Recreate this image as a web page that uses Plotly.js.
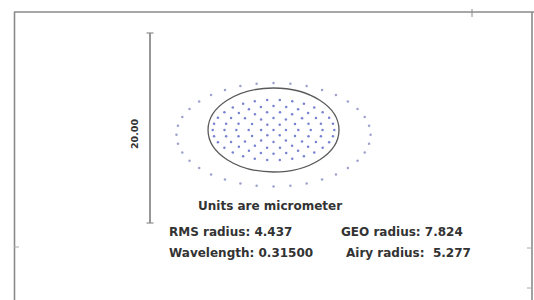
<!DOCTYPE html>
<html>
<head>
<meta charset="utf-8">
<script src="https://cdn.plot.ly/plotly-3.0.1.min.js"></script>
<style>html,body{margin:0;padding:0;background:#fff;}#chart{width:534px;height:300px;}</style>
</head>
<body>
<div id="chart"></div>
<script>
// ---- Data (micrometers) ----
var centerX = [0];
var centerY = [0];
var ring1X = [1.0, 0.5, -0.5, -1.0, -0.5, 0.5];
var ring1Y = [0, 0.67, 0.67, 0, -0.67, -0.67];
var ring2X = [2.0, 1.73, 1.0, 0, -1.0, -1.73, -2.0, -1.73, -1.0, 0, 1.0, 1.73];
var ring2Y = [0, 0.76, 1.32, 1.52, 1.32, 0.76, 0, -0.76, -1.32, -1.52, -1.32, -0.76];
var ring3X = [3.0, 2.82, 2.30, 1.5, 0.52, -0.52, -1.5, -2.30, -2.82, -3.0, -2.82, -2.30, -1.5, -0.52, 0.52, 1.5, 2.30, 2.82];
var ring3Y = [0, 0.78, 1.46, 1.97, 2.24, 2.24, 1.97, 1.46, 0.78, 0, -0.78, -1.46, -1.97, -2.24, -2.24, -1.97, -1.46, -0.78];
var ring4X = [3.95, 3.82, 3.42, 2.79, 1.98, 1.02, 0, -1.02, -1.98, -2.79, -3.42, -3.82, -3.95, -3.82, -3.42, -2.79, -1.98, -1.02, 0, 1.02, 1.98, 2.79, 3.42, 3.82];
var ring4Y = [0, 0.78, 1.5, 2.12, 2.6, 2.9, 3.0, 2.9, 2.6, 2.12, 1.5, 0.78, 0, -0.78, -1.5, -2.12, -2.6, -2.9, -3.0, -2.9, -2.6, -2.12, -1.5, -0.78];
var ring5X = [4.9, 4.79, 4.48, 3.96, 3.28, 2.45, 1.51, 0.51, -0.51, -1.51, -2.45, -3.28, -3.96, -4.48, -4.79, -4.9, -4.79, -4.48, -3.96, -3.28, -2.45, -1.51, -0.51, 0.51, 1.51, 2.45, 3.28, 3.96, 4.48, 4.79];
var ring5Y = [0, 0.79, 1.55, 2.23, 2.82, 3.29, 3.61, 3.78, 3.78, 3.61, 3.29, 2.82, 2.23, 1.55, 0.79, 0, -0.79, -1.55, -2.23, -2.82, -3.29, -3.61, -3.78, -3.78, -3.61, -3.29, -2.82, -2.23, -1.55, -0.79];
var outerX = [7.82, 7.70, 7.35, 6.77, 5.99, 5.03, 3.91, 2.67, 1.36, 0, -1.36, -2.67, -3.91, -5.03, -5.99, -6.77, -7.35, -7.70, -7.82, -7.70, -7.35, -6.77, -5.99, -5.03, -3.91, -2.67, -1.36, 0, 1.36, 2.67, 3.91, 5.03, 5.99, 6.77, 7.35, 7.70];
var outerY = [-0.6, 0.53, 1.62, 2.65, 3.58, 4.38, 5.03, 5.51, 5.80, 5.9, 5.80, 5.51, 5.03, 4.38, 3.58, 2.65, 1.62, 0.53, -0.6, -1.73, -2.82, -3.85, -4.78, -5.58, -6.23, -6.71, -7.0, -7.1, -7.0, -6.71, -6.23, -5.58, -4.78, -3.85, -2.82, -1.73];

var airyRadius = 5.277;
var scaleBarLabel = "20.00";
var unitsLabel = "Units are micrometer";
var statLabels = ["RMS radius: 4.437", "GEO radius: 7.824", "Wavelength: 0.31500", "Airy radius:  5.277"];

// ---- Build ----
var innerX = centerX.concat(ring1X, ring2X, ring3X, ring4X, ring5X);
var innerY = centerY.concat(ring1Y, ring2Y, ring3Y, ring4Y, ring5Y);

var W = 534, H = 300;
function px(x){ return x / W; }
function py(y){ return 1 - y / H; }

var traces = [
  {x: innerX, y: innerY, type: 'scatter', mode: 'markers', hoverinfo: 'skip',
   marker: {size: 2.5, color: 'rgba(65,82,190,0.72)'}},
  {x: outerX, y: outerY, type: 'scatter', mode: 'markers', hoverinfo: 'skip',
   marker: {size: 2.5, color: 'rgba(95,105,175,0.62)'}}
];

var lineCol = '#8a8a8a';
var shapes = [
  {type:'line', xref:'paper', yref:'paper', x0:px(14.5), x1:px(14.5), y0:py(12), y1:py(300), line:{color:lineCol, width:1.6}},
  {type:'line', xref:'paper', yref:'paper', x0:px(14), x1:px(534), y0:py(12), y1:py(12), line:{color:lineCol, width:1.6}},
  {type:'line', xref:'paper', yref:'paper', x0:px(532), x1:px(532), y0:py(12), y1:py(300), line:{color:lineCol, width:1.6}},
  {type:'line', xref:'paper', yref:'paper', x0:px(472), x1:px(472), y0:py(9), y1:py(17), line:{color:lineCol, width:1}},
  {type:'line', xref:'paper', yref:'paper', x0:px(14), x1:px(19), y0:py(247), y1:py(247), line:{color:'#aaa', width:1}},
  {type:'line', xref:'paper', yref:'paper', x0:px(527), x1:px(532), y0:py(248), y1:py(248), line:{color:'#aaa', width:1}},
  {type:'line', xref:'paper', yref:'paper', x0:px(527), x1:px(532), y0:py(288), y1:py(288), line:{color:'#aaa', width:1}},
  // scale bar
  {type:'line', xref:'paper', yref:'paper', x0:px(150), x1:px(150), y0:py(33), y1:py(223), line:{color:'#8c8c8c', width:1.8}},
  {type:'line', xref:'paper', yref:'paper', x0:px(146.5), x1:px(153.5), y0:py(33), y1:py(33), line:{color:'#8c8c8c', width:1.2}},
  {type:'line', xref:'paper', yref:'paper', x0:px(146.5), x1:px(153.5), y0:py(223), y1:py(223), line:{color:'#8c8c8c', width:1.2}},
  // Airy circle
  {type:'circle', xref:'x', yref:'y', x0:-airyRadius, x1:airyRadius, y0:-airyRadius, y1:airyRadius,
   line:{color:'#5a5a5a', width:1.3}, fillcolor:'rgba(0,0,0,0)'}
];

var tf = {family:'"DejaVu Sans", sans-serif', size:12, color:'#333'};
var annotations = [
  {xref:'paper', yref:'paper', x:px(134), y:py(134), text:'<b>'+scaleBarLabel+'</b>', textangle:-90, showarrow:false,
   xanchor:'center', yanchor:'middle', font:{family:'"DejaVu Sans", sans-serif', size:9.5, color:'#333'}},
  {xref:'paper', yref:'paper', x:px(270), y:py(206), text:'<b>'+unitsLabel+'</b>', showarrow:false, xanchor:'center', yanchor:'middle', font:tf},
  {xref:'paper', yref:'paper', x:px(167), y:py(232), text:'<b>'+statLabels[0]+'</b>', showarrow:false, xanchor:'left', yanchor:'middle', font:tf},
  {xref:'paper', yref:'paper', x:px(339), y:py(232), text:'<b>'+statLabels[1]+'</b>', showarrow:false, xanchor:'left', yanchor:'middle', font:tf},
  {xref:'paper', yref:'paper', x:px(167), y:py(253), text:'<b>'+statLabels[2]+'</b>', showarrow:false, xanchor:'left', yanchor:'middle', font:tf},
  {xref:'paper', yref:'paper', x:px(344), y:py(253), text:'<b>'+statLabels[3].replace('  ',' &nbsp;')+'</b>', showarrow:false, xanchor:'left', yanchor:'middle', font:tf}
];

var layout = {
  width: W, height: H,
  margin: {l:0, r:0, t:0, b:0, pad:0},
  paper_bgcolor: '#fff', plot_bgcolor: '#fff',
  showlegend: false,
  xaxis: {range: [-22.04, 20.99], visible: false, fixedrange: true},
  yaxis: {range: [-21.36, 16.33], visible: false, fixedrange: true},
  shapes: shapes,
  annotations: annotations
};

Plotly.newPlot('chart', traces, layout, {staticPlot: true, displayModeBar: false});
</script>
</body>
</html>
